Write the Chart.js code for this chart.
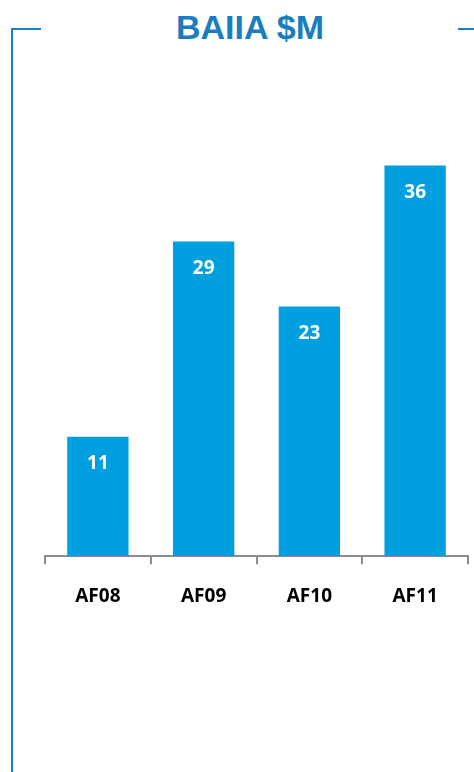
<!DOCTYPE html>
<html>
<head>
<meta charset="utf-8">
<script src="https://cdn.jsdelivr.net/npm/chart.js@4/dist/chart.umd.min.js"></script>
<style>
  html, body { margin: 0; padding: 0; background: #fff; }
  #wrap { position: relative; width: 474px; height: 772px; }
  #myChart { position: absolute; left: 0; top: 0; }
  .frame { position: absolute; background: #1a7fc0; }
  #title { position: absolute; left: 150px; width: 200px; top: 7px; text-align: center;
           font: bold 34px "Liberation Sans", Arial, sans-serif; color: #1a7dbd; line-height: 40px; }
</style>
</head>
<body>
<div id="wrap">
  <div class="frame" style="left:11px;top:28px;width:2px;height:744px;"></div>
  <div class="frame" style="left:11px;top:28px;width:30px;height:2px;"></div>
  <div class="frame" style="left:458px;top:28px;width:16px;height:2px;"></div>
  <div id="title">BAIIA $M</div>
  <canvas id="myChart" width="474" height="772"></canvas>
</div>
<script>
var categories = ['AF08', 'AF09', 'AF10', 'AF11'];
var values = [11, 29, 23, 36];

// white value label inside the top of each bar
var valueLabels = {
    id: 'valueLabels',
    afterDatasetsDraw: function(chart) {
        var ctx = chart.ctx;
        var meta = chart.getDatasetMeta(0);
        ctx.save();
        ctx.fillStyle = '#ffffff';
        ctx.font = 'bold 19px "Open Sans", "DejaVu Sans", sans-serif';
        ctx.textAlign = 'center';
        ctx.textBaseline = 'middle';
        meta.data.forEach(function(bar, i) {
            ctx.fillText(values[i], bar.x, bar.y + 27);
        });
        ctx.restore();
    }
};

var ctx = document.getElementById('myChart').getContext('2d');
var chart = new Chart(ctx, {
    type: 'bar',
    data: {
        labels: categories,
        datasets: [{
            data: values,
            backgroundColor: '#00a0e0',
            borderWidth: 0,
            barPercentage: 0.58,
            categoryPercentage: 1
        }]
    },
    plugins: [valueLabels],
    options: {
        responsive: false,
        animation: false,
        layout: { padding: { left: 45, right: 6, top: 122, bottom: 143 } },
        plugins: {
            legend: { display: false },
            tooltip: { enabled: false }
        },
        scales: {
            x: {
                grid: {
                    offset: true,
                    drawOnChartArea: false,
                    drawTicks: true,
                    tickLength: 8,
                    color: '#8c8c8c',
                    lineWidth: 2
                },
                border: { color: '#8c8c8c', width: 2 },
                ticks: {
                    color: '#000000',
                    padding: 21,
                    font: { family: '"Open Sans", "DejaVu Sans", sans-serif', size: 19, weight: 'bold' }
                }
            },
            y: {
                display: false,
                min: 0,
                max: 40
            }
        }
    }
});
</script>
</body>
</html>
